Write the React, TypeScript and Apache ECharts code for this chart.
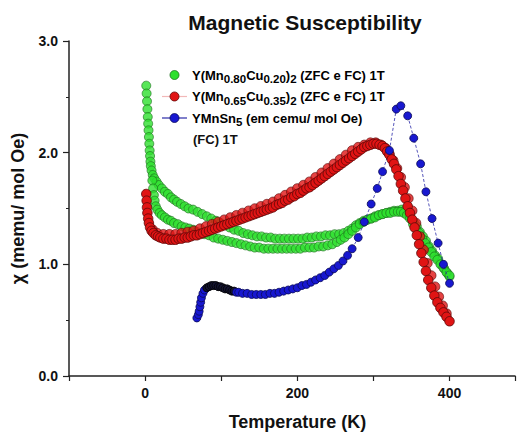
import React, { useEffect, useRef } from "react";
import * as echarts from "echarts";

// [Temperature (K), chi (memu/mol Oe)]
const greenStart: number[][] = [
  [1.5, 2.6], [2, 2.53], [2.5, 2.46], [3, 2.39], [3.5, 2.32], [4, 2.26], [4.5, 2.2], [5, 2.14],
  [5.5, 2.08], [6, 2.02], [6.5, 1.97], [7, 1.92], [7.5, 1.88], [8.5, 1.84],
];
const greenUpper: number[][] = [
  [10, 1.8], [12, 1.77], [15, 1.74], [18, 1.71], [22, 1.68], [26, 1.65], [30, 1.63], [34, 1.6],
  [38, 1.58], [42, 1.56], [47, 1.54], [52, 1.52], [57, 1.5], [63, 1.49], [69, 1.47], [75, 1.45],
  [81, 1.43], [87, 1.41], [93, 1.39], [99, 1.37], [105, 1.35], [111, 1.33], [117, 1.31], [123, 1.3],
  [129, 1.28], [135, 1.27], [141, 1.26], [147, 1.25], [153, 1.25], [159, 1.24], [165, 1.24],
  [171, 1.23], [177, 1.23], [183, 1.23], [189, 1.23], [195, 1.23], [201, 1.23], [207, 1.23],
  [213, 1.24], [219, 1.24], [225, 1.25], [231, 1.25], [237, 1.26], [243, 1.26], [249, 1.27],
  [255, 1.27], [261, 1.28], [267, 1.3], [272, 1.32], [277, 1.35], [282, 1.37], [287, 1.39],
  [292, 1.4], [297, 1.41], [302, 1.43], [307, 1.44], [312, 1.45], [317, 1.46], [322, 1.47],
  [327, 1.48], [332, 1.48], [337, 1.49], [341, 1.48], [345, 1.46], [349, 1.42], [353, 1.38],
  [357, 1.34], [361, 1.29], [365, 1.25], [369, 1.21], [373, 1.16], [377, 1.12], [381, 1.08],
  [385, 1.05], [389, 1.0], [393, 0.96], [397, 0.92], [400, 0.89],
];
const greenLower: number[][] = [
  [9.5, 1.75], [10.5, 1.68], [11.5, 1.62], [12.5, 1.57], [14, 1.52], [16, 1.49], [19, 1.46],
  [22, 1.44], [26, 1.42], [30, 1.4], [34, 1.39], [38, 1.37], [43, 1.36], [48, 1.34], [53, 1.33],
  [58, 1.32], [63, 1.31], [68, 1.29], [73, 1.28], [78, 1.27], [84, 1.26], [90, 1.24], [96, 1.23],
  [102, 1.22], [108, 1.21], [114, 1.2], [120, 1.19], [126, 1.18], [132, 1.17], [138, 1.16],
  [144, 1.15], [150, 1.15], [156, 1.14], [162, 1.14], [168, 1.14], [174, 1.14], [180, 1.14],
  [186, 1.14], [192, 1.14], [198, 1.14], [204, 1.14], [210, 1.15], [216, 1.15], [222, 1.15],
  [228, 1.16], [234, 1.16], [240, 1.17], [246, 1.18], [252, 1.2], [257, 1.22], [262, 1.24],
  [267, 1.27], [272, 1.3], [277, 1.33], [282, 1.36], [287, 1.38], [292, 1.4], [297, 1.41],
  [302, 1.42], [307, 1.44], [312, 1.45], [317, 1.46], [322, 1.46], [327, 1.47], [332, 1.47],
  [336, 1.47], [340, 1.46], [344, 1.44], [348, 1.41], [352, 1.36], [356, 1.32], [360, 1.28],
  [364, 1.23], [368, 1.19], [372, 1.15], [376, 1.11], [380, 1.07], [384, 1.04], [388, 1.0],
  [392, 0.97], [396, 0.93], [400, 0.9],
];
const redZfc: number[][] = [
  [1.5, 1.63], [2, 1.57], [2.5, 1.51], [3, 1.46], [4, 1.41], [5, 1.37], [6.5, 1.33], [8.5, 1.3],
  [11, 1.28], [14, 1.26], [17, 1.25], [20, 1.24], [24, 1.23], [28, 1.23], [32, 1.22], [36, 1.22],
  [40, 1.22], [44, 1.23], [48, 1.23], [52, 1.24], [56, 1.24], [60, 1.25], [64, 1.26], [68, 1.26],
  [72, 1.27], [76, 1.28], [80, 1.29], [84, 1.3], [88, 1.31], [92, 1.32], [96, 1.33], [100, 1.34],
  [104, 1.35], [108, 1.36], [112, 1.37], [116, 1.38], [120, 1.39], [124, 1.4], [128, 1.41],
  [132, 1.42], [136, 1.43], [140, 1.44], [144, 1.45], [148, 1.46], [152, 1.47], [156, 1.48],
  [160, 1.49], [164, 1.5], [168, 1.51], [172, 1.53], [176, 1.54], [180, 1.55], [184, 1.57],
  [188, 1.58], [192, 1.6], [196, 1.61], [200, 1.63], [204, 1.64], [208, 1.66], [212, 1.68],
  [216, 1.69], [220, 1.71], [224, 1.73], [228, 1.75], [232, 1.77], [236, 1.79], [240, 1.81],
  [244, 1.83], [248, 1.85], [252, 1.87], [256, 1.89], [260, 1.91], [264, 1.93], [268, 1.95],
  [272, 1.97], [276, 1.99], [280, 2.01], [284, 2.03], [288, 2.05], [292, 2.06], [296, 2.07],
  [300, 2.08], [304, 2.08], [308, 2.07], [312, 2.06], [315, 2.04], [318, 2.01], [321, 1.98],
  [324, 1.94], [327, 1.9], [330, 1.85], [333, 1.79], [336, 1.72], [339, 1.66], [342, 1.59],
  [345, 1.52], [348, 1.46], [351, 1.4], [354, 1.33], [357, 1.26], [360, 1.18], [363, 1.1],
  [366, 1.02], [369, 0.94], [372, 0.86], [376, 0.79], [380, 0.72], [384, 0.66], [388, 0.61],
  [392, 0.57], [396, 0.53], [400, 0.49],
];
const redFc: number[][] = [
  [10, 1.31], [16, 1.28], [24, 1.27], [32, 1.27], [40, 1.27], [48, 1.28], [56, 1.29], [64, 1.3],
  [72, 1.32], [80, 1.34], [88, 1.36], [96, 1.38], [104, 1.4], [112, 1.42], [120, 1.44],
  [128, 1.46], [136, 1.48], [144, 1.5], [152, 1.52], [160, 1.54], [168, 1.56], [176, 1.59],
  [184, 1.62], [192, 1.65], [200, 1.68], [208, 1.71], [216, 1.74], [224, 1.78], [232, 1.82],
  [240, 1.86], [248, 1.9], [256, 1.94], [264, 1.98], [272, 2.02], [280, 2.05], [288, 2.07],
  [296, 2.09], [303, 2.09], [310, 2.07], [316, 2.04], [321, 1.99], [326, 1.93], [331, 1.86],
  [336, 1.78], [341, 1.69], [346, 1.59], [351, 1.48], [356, 1.37], [361, 1.25], [366, 1.13],
  [371, 1.01], [376, 0.9], [381, 0.8], [386, 0.71], [391, 0.63], [396, 0.56],
];
const blueFc: number[][] = [
  [68, 0.52], [70, 0.55], [71, 0.58], [72, 0.62], [73, 0.66], [74, 0.7], [76, 0.74], [78, 0.77],
  [81, 0.79], [84, 0.8], [87, 0.81], [90, 0.81], [93, 0.81], [96, 0.8], [99, 0.8], [102, 0.79],
  [105, 0.78], [108, 0.78], [111, 0.77], [114, 0.76], [117, 0.76], [120, 0.75], [123, 0.75],
  [128, 0.74], [134, 0.74], [140, 0.73], [146, 0.73], [152, 0.73], [158, 0.73], [164, 0.74],
  [170, 0.74], [176, 0.75], [182, 0.76], [188, 0.77], [194, 0.78], [200, 0.79], [206, 0.81],
  [212, 0.82], [218, 0.84], [224, 0.86], [230, 0.88], [236, 0.9], [242, 0.93], [248, 0.96],
  [254, 0.99], [260, 1.03], [266, 1.08], [272, 1.14], [280, 1.24], [288, 1.38], [297, 1.54],
  [305, 1.68], [312, 1.83], [321, 2.02], [330, 2.39], [336, 2.42], [345, 2.33], [353, 2.13],
  [362, 1.9], [369, 1.65], [377, 1.41], [385, 1.19], [392, 1.0], [400, 0.83],
];

const titleText = "Magnetic Susceptibility";
const xName = "Temperature (K)";
const yName = "χ (memu/ mol Oe)";

const FONT = "Arial, 'Liberation Sans', Helvetica, sans-serif";
const GREEN = "#2ee02e";
const RED = "#e01414";
const BLUE = "#1818d0";

export default function App() {
  const ref = useRef<HTMLDivElement>(null);
  useEffect(() => {
    if (!ref.current) return;
    const chart = echarts.init(ref.current, null, { renderer: "svg" });
    const rich = {
      n: { fontSize: 13, fontWeight: "bold", fontFamily: FONT, color: "#111" },
      s: { fontSize: 11.5, fontWeight: "bold", fontFamily: FONT, color: "#111", padding: [8, 0, 0, 0] },
    };
    const legendY = [75, 96.5, 118];
    const legendTexts = [
      "{n|Y(Mn}{s|0.80}{n|Cu}{s|0.20}{n|)}{s|2}{n| (ZFC e FC) 1T}",
      "{n|Y(Mn}{s|0.65}{n|Cu}{s|0.35}{n|)}{s|2}{n| (ZFC e FC) 1T}",
      "{n|YMnSn}{s|5}{n| (em cemu/ mol Oe)}",
    ];
    const colors = [GREEN, RED, BLUE];
    const borders = ["#1d6e1d", "#5a0808", "#0a0a55"];
    const lineCols = [null, "#f2b8b8", "#2a2aa8"];
    const graphics: any[] = [];
    legendY.forEach((y, i) => {
      if (lineCols[i]) {
        graphics.push({
          type: "line",
          shape: { x1: 162, y1: y, x2: 187, y2: y },
          style: { stroke: lineCols[i], lineWidth: 1.2 },
        });
      }
      graphics.push({
        type: "circle",
        shape: { cx: 174.5, cy: y, r: 4.5 },
        style: { fill: colors[i], stroke: borders[i], lineWidth: 0.8 },
      });
      graphics.push({
        type: "text",
        x: 192,
        y: y,
        style: { text: legendTexts[i], rich, verticalAlign: "middle", align: "left" },
      });
    });
    graphics.push({
      type: "text",
      x: 193,
      y: 139.5,
      style: {
        text: "(FC) 1T",
        font: `bold 13px ${FONT}`,
        fill: "#111",
        verticalAlign: "middle",
        align: "left",
      },
    });

    const sym = (color: string, border: string, size: number) => ({
      symbol: "circle",
      symbolSize: size,
      itemStyle: { color, borderColor: border, borderWidth: 0.8 },
    });

    chart.setOption({
      animation: false,
      backgroundColor: "#fff",
      title: {
        text: titleText,
        left: 300,
        top: 7,
        textAlign: "center",
        textStyle: { fontFamily: FONT, fontWeight: "bold", fontSize: 21, color: "#111" },
      },
      grid: { left: 69, right: 0, top: 41, bottom: 57 },
      xAxis: {
        type: "value",
        min: -100,
        max: 486,
        interval: 100,
        name: xName,
        nameLocation: "middle",
        nameGap: 37,
        nameTextStyle: {
          fontFamily: FONT,
          fontWeight: "bold",
          fontSize: 18,
          color: "#111",
          padding: [0, 0, 0, 11],
        },
        axisLine: { show: true, onZero: false, lineStyle: { color: "#222", width: 1.5 } },
        axisTick: { show: true, inside: false, length: 5, lineStyle: { color: "#222", width: 1.2 } },
        axisLabel: {
          margin: 10,
          fontFamily: FONT,
          fontWeight: "bold",
          fontSize: 14,
          color: "#111",
          formatter: (v: number) => (Math.round(v) % 200 === 0 && v >= 0 && v <= 400 ? String(v) : ""),
        },
        splitLine: { show: false },
      },
      yAxis: {
        type: "value",
        min: 0,
        max: 3,
        interval: 1,
        name: yName,
        nameLocation: "middle",
        nameGap: 42,
        nameTextStyle: { fontFamily: FONT, fontWeight: "bold", fontSize: 18, color: "#111" },
        axisLine: { show: true, onZero: false, lineStyle: { color: "#222", width: 1.5 } },
        axisTick: { show: true, inside: false, length: 6, lineStyle: { color: "#222", width: 1.2 } },
        minorTick: { show: true, splitNumber: 2, length: 3, lineStyle: { color: "#222", width: 1 } },
        axisLabel: {
          margin: 11,
          fontFamily: FONT,
          fontWeight: "bold",
          fontSize: 14,
          color: "#111",
          formatter: (v: number) => v.toFixed(1),
        },
        splitLine: { show: false },
      },
      graphic: graphics,
      series: [
        { name: "green start", type: "scatter", data: greenStart, ...sym(GREEN, borders[0], 9) },
        { name: "green upper", type: "scatter", data: greenUpper, ...sym(GREEN, borders[0], 9) },
        { name: "green lower", type: "scatter", data: greenLower, ...sym(GREEN, borders[0], 9) },
        { name: "red FC", type: "scatter", data: redFc, ...sym(RED, borders[1], 9.5) },
        {
          name: "red ZFC",
          type: "line",
          data: redZfc,
          showSymbol: true,
          lineStyle: { color: "#f2b8b8", width: 1 },
          ...sym(RED, borders[1], 9.5),
        },
        {
          name: "blue FC",
          type: "line",
          data: blueFc.map((p) => ({
            value: p,
            itemStyle: p[0] > 80 && p[0] < 120 ? { color: "#141430", borderColor: "#000" } : undefined,
          })),
          showSymbol: true,
          lineStyle: { color: "#2a2aa8", width: 0.8, type: [3, 2] },
          ...sym(BLUE, borders[2], 8),
        },
      ],
    });
    return () => chart.dispose();
  }, []);
  return (
    <div
      ref={ref}
      style={{ position: "fixed", left: 0, top: 0, width: 518, height: 436, background: "#fff" }}
    />
  );
}
